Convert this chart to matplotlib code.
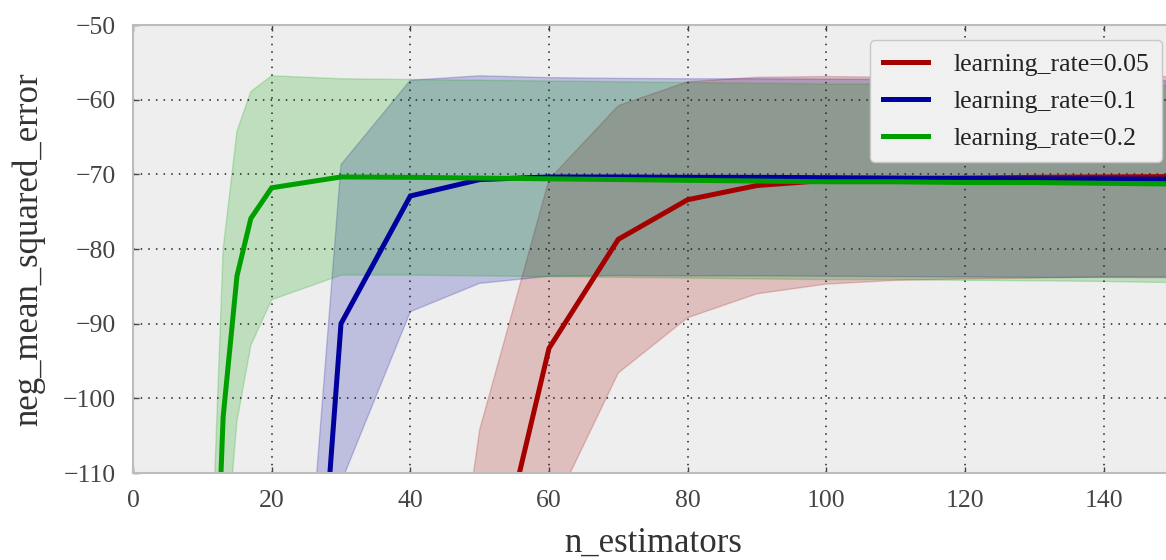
import numpy as np
import matplotlib
matplotlib.use("Agg")
import matplotlib.pyplot as plt

# ---- data ----
n_estimators = [10, 13, 15, 17, 20, 30, 40, 50, 60, 70, 80, 90, 100, 110, 120, 130, 140, 150]

mean_lr005 = [-420, -400, -380, -360, -330, -250, -200, -132.4, -93.3, -78.7, -73.4, -71.5, -70.8,
              -70.6, -70.5, -70.4, -70.35, -70.3]
std_lr005 = [40, 40, 40, 40, 35, 33, 31, 28.2, 22.6, 17.9, 15.8, 14.5, 13.9,
             13.6, 13.5, 13.5, 13.4, 13.4]

mean_lr01 = [-330, -300, -280, -250, -215, -90.0, -72.9, -70.7, -70.35, -70.35, -70.4, -70.4, -70.45,
             -70.5, -70.55, -70.6, -70.6, -70.65]
std_lr01 = [30, 30, 30, 30, 28.3, 21.3, 15.5, 13.9, 13.3, 13.2, 13.2, 13.2, 13.2,
            13.2, 13.2, 13.2, 13.2, 13.2]

mean_lr02 = [-175, -102.5, -83.6, -75.9, -71.8, -70.35, -70.4, -70.5, -70.6, -70.7, -70.8, -70.9, -71.0,
             -71.0, -71.1, -71.1, -71.2, -71.3]
std_lr02 = [20, 22.5, 19.4, 17.0, 15.0, 13.15, 13.1, 13.1, 13.1, 13.1, 13.1, 13.1, 13.1,
            13.1, 13.1, 13.15, 13.15, 13.2]

labels = ["learning_rate=0.05", "learning_rate=0.1", "learning_rate=0.2"]
colors = ["#a50000", "#00009f", "#009f00"]

x_ticks = [0, 20, 40, 60, 80, 100, 120, 140]
y_ticks = [-110, -100, -90, -80, -70, -60, -50]

# ---- style ----
plt.rcParams["font.family"] = ["Liberation Serif", "DejaVu Serif"]
plt.rcParams["mathtext.default"] = "regular"

W, H = 1166, 560
fig = plt.figure(figsize=(W / 100, H / 100), dpi=100)
fig.patch.set_facecolor("white")
ax = fig.add_axes([133 / W, 1 - 473 / H, 1040 / W, 448 / H])
ax.set_facecolor("#eeeeee")

series = [(mean_lr005, std_lr005), (mean_lr01, std_lr01), (mean_lr02, std_lr02)]
x = np.array(n_estimators, dtype=float)
for (m, s), lab, c in zip(series, labels, colors):
    m = np.array(m)
    s = np.array(s)
    ax.fill_between(x, m - s, m + s, color=c, alpha=0.2, linewidth=1)
for (m, s), lab, c in zip(series, labels, colors):
    ax.plot(x, m, color=c, lw=3.6, label=lab, solid_joinstyle="miter")

ax.set_xlim(0, 150)
ax.set_ylim(-110, -50)
ax.set_xticks(x_ticks)
ax.set_yticks(y_ticks)
ax.set_yticklabels(["\u2212%d" % abs(v) for v in y_ticks])

ax.set_axisbelow("line")
ax.grid(True, color="#222222", linestyle=(0, (1, 4)), linewidth=1.1)

for sp in ax.spines.values():
    sp.set_color("#bcbcbc")
    sp.set_linewidth(1.5)

ax.tick_params(axis="both", which="major", direction="in", length=4, width=1,
               color="#444444", labelsize=18.5, labelcolor="#444444",
               top=True, right=True, pad=12)

ax.set_xlabel("n_estimators", fontsize=25, color="#333333", labelpad=11)
ax.set_ylabel("neg_mean_squared_error", fontsize=25, color="#333333", labelpad=13)

leg = ax.legend(loc="upper right", bbox_to_anchor=(1162 / W, 1 - 40 / H),
                bbox_transform=fig.transFigure, borderaxespad=0,
                fontsize=18.5, frameon=True, fancybox=True,
                handlelength=1.75, handletextpad=1.0, labelspacing=0.54,
                borderpad=0.5)
leg.get_frame().set_facecolor("#f0f0f0")
leg.get_frame().set_edgecolor("#c8c8c8")
leg.get_frame().set_alpha(1.0)
for t in leg.get_texts():
    t.set_color("#222222")

fig.savefig("out.png", dpi=100, facecolor="white")
